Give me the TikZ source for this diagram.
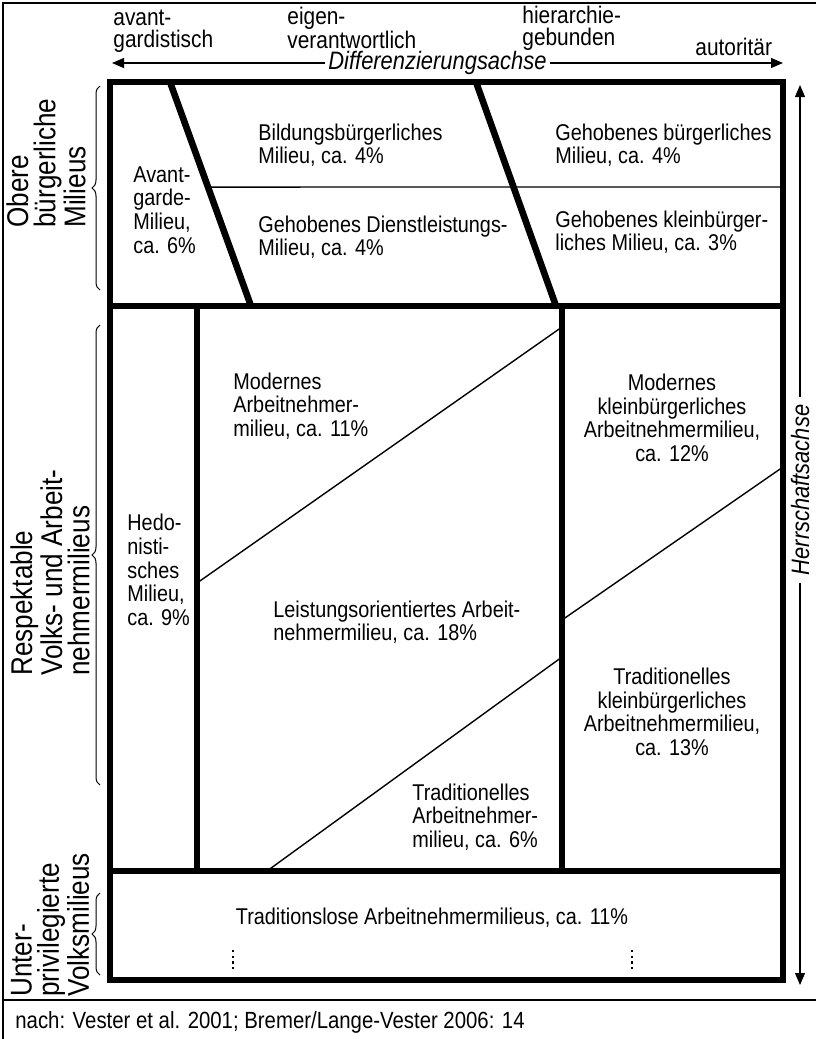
\documentclass[tikz,border=0pt]{standalone}
\usepackage{fontspec}
\setmainfont{Liberation Sans}[FakeStretch=0.87]
\usetikzlibrary{arrows.meta,calc,decorations.pathreplacing}
\tikzset{
    %Define standard arrow tip
    >={Triangle[length=6pt,width=5pt]},
    %Define style for the heavy milieu borders
    balken/.style={
           line width=3.3pt},
    % Define style for the thin dividing lines
    trenn/.style={
           line width=0.7pt},
    % Define style for the page frame
    rahmen/.style={
           line width=0.6pt},
    % Define arrow style
    pil/.style={
           <->,
           line width=0.55pt},
    % Define style for the milieu texts
    milieu/.style={
           inner sep=0pt,
           align=left,
           font=\fontsize{11.4}{11.8}\selectfont},
    % Define style for the axis poles
    pol/.style={
           inner sep=0pt,
           align=left,
           anchor=west,
           font=\fontsize{12}{11}\selectfont},
    % Define style for the axis names
    achse/.style={
           fill=white,
           inner xsep=1.5pt,
           inner ysep=0pt,
           font=\fontsize{12.6}{12}\selectfont\itshape},
    % Define style for the side groups
    gruppe/.style={
           rotate=90,
           anchor=west,
           inner sep=0pt,
           align=left,
           font=\fontsize{15}{13.6}\selectfont},
    % Define brace style
    klammer/.style={
           decorate,
           decoration={brace,amplitude=4pt},
           line width=0.5pt}
}
\begin{document}
\begin{tikzpicture}[x=0.5pt,y=-0.5pt]
    \useasboundingbox (0,0) rectangle (816,1039);

    % frame of the page
    \draw[rahmen] (816,3) -- (3,3) -- (3,1039);
    \draw[rahmen] (3,1000) -- (816,1000);

    % corner points of the grid
    \coordinate (nw) at (110,82);
    \coordinate (se) at (783,980);
    \coordinate (ml) at (110,306);
    \coordinate (mr) at (783,306);
    \coordinate (ul) at (110,871);
    \coordinate (ur) at (783,871);
    \coordinate (s1o) at (170,82);
    \coordinate (s1u) at (251,306);
    \coordinate (s2o) at (476,82);
    \coordinate (s2u) at (556,306);
    \coordinate (v1o) at (197,306);
    \coordinate (v1u) at (197,871);
    \coordinate (v2o) at (562,306);
    \coordinate (v2u) at (562,871);

    % heavy borders
    \draw[balken] (nw) rectangle (se);
    \draw[balken] (ml) -- (mr);
    \draw[balken] (ul) -- (ur);
    \draw[balken] (s1o) -- (s1u);
    \draw[balken] (s2o) -- (s2u);
    \draw[balken] (v1o) -- (v1u);
    \draw[balken] (v2o) -- (v2u);

    % thin dividers
    \draw[trenn] ($(s1o)!0.469!(s1u)$) -- (783,187);
    \draw[trenn] (197,583) -- (562,327);
    \draw[trenn] (562,620) -- (783,467);
    \draw[trenn] (267,871) -- (562,657);

    % dotted marks
    \draw[line width=1pt,dash pattern=on 1.2pt off 1.6pt] (233,950) -- (233,972);
    \draw[line width=1pt,dash pattern=on 1.2pt off 1.6pt] (632,950) -- (632,972);

    % milieus
    \node[milieu,anchor=west] (avant) at (133,210) {Avant-\\garde-\\Milieu,\\ca. 6\%};
    \node[milieu,anchor=west] (bildung) at (258,145) {Bildungsbürgerliches\\Milieu, ca. 4\%};
    \node[milieu,anchor=west] (dienst) at (258,237) {Gehobenes Dienstleistungs-\\Milieu, ca. 4\%};
    \node[milieu,anchor=west] (gehoben) at (555,145) {Gehobenes bürgerliches\\Milieu, ca. 4\%};
    \node[milieu,anchor=west] (kleinb) at (555,232) {Gehobenes kleinbürger-\\liches Milieu, ca. 3\%};
    \node[milieu,anchor=west] (hedo) at (127,570) {Hedo-\\nisti-\\sches\\Milieu,\\ca. 9\%};
    \node[milieu,anchor=west] (modern) at (233,406) {Modernes\\Arbeitnehmer-\\milieu, ca. 11\%};
    \node[milieu,align=center] (modkl) at (672,418) {Modernes\\kleinbürgerliches\\Arbeitnehmermilieu,\\ca. 12\%};
    \node[milieu,anchor=west] (leist) at (273,622) {Leistungsorientiertes Arbeit-\\nehmermilieu, ca. 18\%};
    \node[milieu,align=center] (tradkl) at (672,712) {Traditionelles\\kleinbürgerliches\\Arbeitnehmermilieu,\\ca. 13\%};
    \node[milieu,anchor=west] (tradarb) at (412,817) {Traditionelles\\Arbeitnehmer-\\milieu, ca. 6\%};
    \node[milieu] (trlos) at (432,918) {Traditionslose Arbeitnehmermilieus, ca. 11\%};

    % poles of the horizontal axis
    \node[pol] (avantg) at (113,31) {avant-\\gardistisch};
    \node[pol] (eigen) at (287,28) {eigen-\\verantwortlich};
    \node[pol] (hier) at (522,28) {hierarchie-\\gebunden};
    \node[pol] (autor) at (695,47) {autoritär};

    % axes
    \coordinate (dl) at (112,63);
    \coordinate (dr) at (783,63);
    \coordinate (hu) at (800,985);
    \coordinate (ho) at (800,85);
    \draw[pil] (dl) -- node[achse,pos=0.485] (diff) {Differenzierungsachse} (dr);
    \draw[pil] (hu) -- node[achse,rotate=90,pos=0.55,inner xsep=4pt] (herr) {Herrschaftsachse} (ho);

    % side groups
    \node[gruppe] (obere) at (46,228) {Obere\\bürgerliche\\Milieus};
    \node[gruppe] (respekt) at (50,676) {Respektable\\Volks- und Arbeit-\\nehmermilieus};
    \node[gruppe] (unter) at (50,997) {Unter-\\privilegierte\\Volksmilieus};
    \draw[klammer] (100,290) -- (100,86);
    \draw[klammer] (100,785) -- (100,325);
    \draw[klammer] (100,975) -- (100,893);

    % source
    \node[inner sep=0pt,anchor=west,font=\fontsize{11.7}{11.7}\selectfont] (quelle) at (15,1022) {nach: Vester et al. 2001; Bremer/Lange-Vester 2006: 14};
\end{tikzpicture}
\end{document}
